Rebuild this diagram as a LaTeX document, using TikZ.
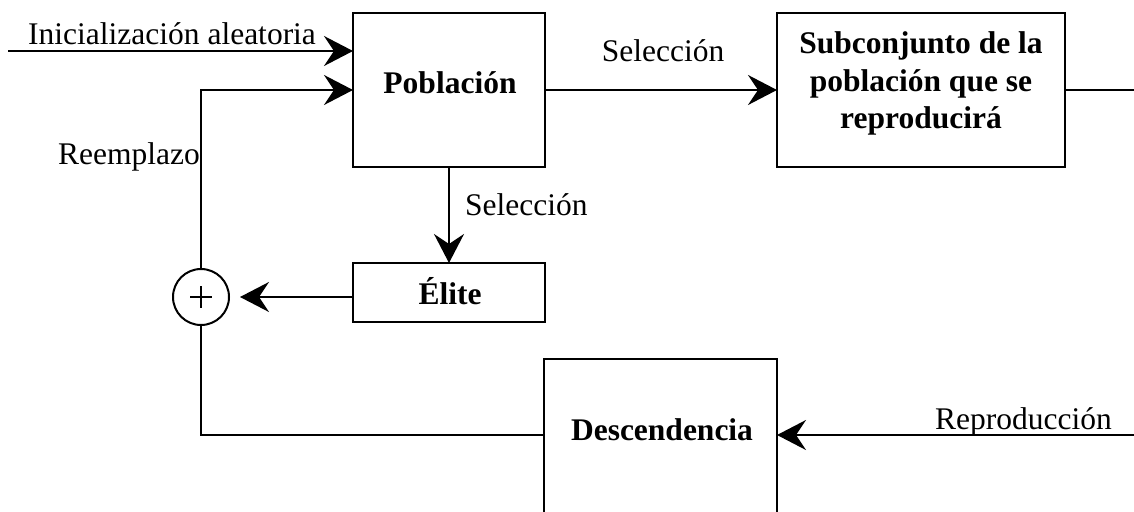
\documentclass[tikz,border=0pt]{standalone}
\usepackage{fontspec}
\setmainfont{Liberation Serif}
\newfontfamily\blockfont{Liberation Serif}
\usetikzlibrary{arrows.meta,calc}
\begin{document}
\begin{tikzpicture}[x=1pt,y=-1pt,
  box/.style={draw, line width=2pt, inner sep=0pt, outer sep=0pt},
  txt/.style={inner sep=0pt, font=\blockfont\fontsize{31.5}{37.5}\selectfont},
  btxt/.style={inner sep=0pt, font=\blockfont\fontsize{31.5}{37.5}\selectfont\bfseries, align=center},
  wire/.style={line width=2pt},
  arr/.style={wire, -{Stealth[length=29pt,width=30pt,inset=10pt]}}]
  \clip (0,0) rectangle (1134,511);

  % blocks
  \node[box, minimum width=192pt, minimum height=154pt] (pob) at (449,90) {};
  \node[box, minimum width=288pt, minimum height=154pt] (sub) at (921,90) {};
  \node[box, minimum width=192pt, minimum height=59pt] (elite) at (449,292.5) {};
  \node[box, minimum width=233pt, minimum height=241pt] (desc) at (660.5,479.5) {};
  \node[draw, circle, line width=2pt, minimum size=56pt, inner sep=0pt] (sum) at (201,297) {};
  % plus sign inside the summing junction
  \draw[line width=1.6pt] ($(sum.center)+(-11,0)$) -- ($(sum.center)+(11,0)$)
                          ($(sum.center)+(0,-11)$) -- ($(sum.center)+(0,11)$);

  % block texts
  \node[btxt, anchor=base] (tpob) at (450,93) {Población};
  \node[btxt] (tsub) at (921,83.5) {Subconjunto de la\\población que se\\reproducirá};
  \node[btxt, anchor=base] (telite) at (450,304) {Élite};
  \node[btxt, anchor=base] (tdesc) at (662,440) {Descendencia};

  % free line ends
  \coordinate (ini) at (8,51);
  \coordinate (outR) at (1140,90);
  \coordinate (rin) at (1140,435);

  % connectors
  \draw[arr] (ini) -- (ini -| pob.west);
  \draw[arr] (sum.north) |- (pob.west);
  \draw[arr] (pob.east) -- (sub.west);
  \draw[wire] (sub.east) -- (outR);
  \draw[arr] (pob.south) -- (elite.north);
  \draw[arr, shorten >=10pt] (elite.west |- sum.east) -- (sum.east);
  \draw[wire] (sum.south) |- ([yshift=44.5pt]desc.west);
  \draw[arr] (rin) -- (rin -| desc.east);

  % connector labels
  \node[txt, anchor=base west] (lini) at (28,45) {Inicialización aleatoria};
  \node[txt, anchor=base east] (lree) at (200,164) {Reemplazo};
  \node[txt, anchor=base] (lsel1) at (663,61) {Selección};
  \node[txt, anchor=base west] (lsel2) at (465,215) {Selección};
  \node[txt, anchor=base west] (lrep) at (935,429) {Reproducción};
\end{tikzpicture}
\end{document}
